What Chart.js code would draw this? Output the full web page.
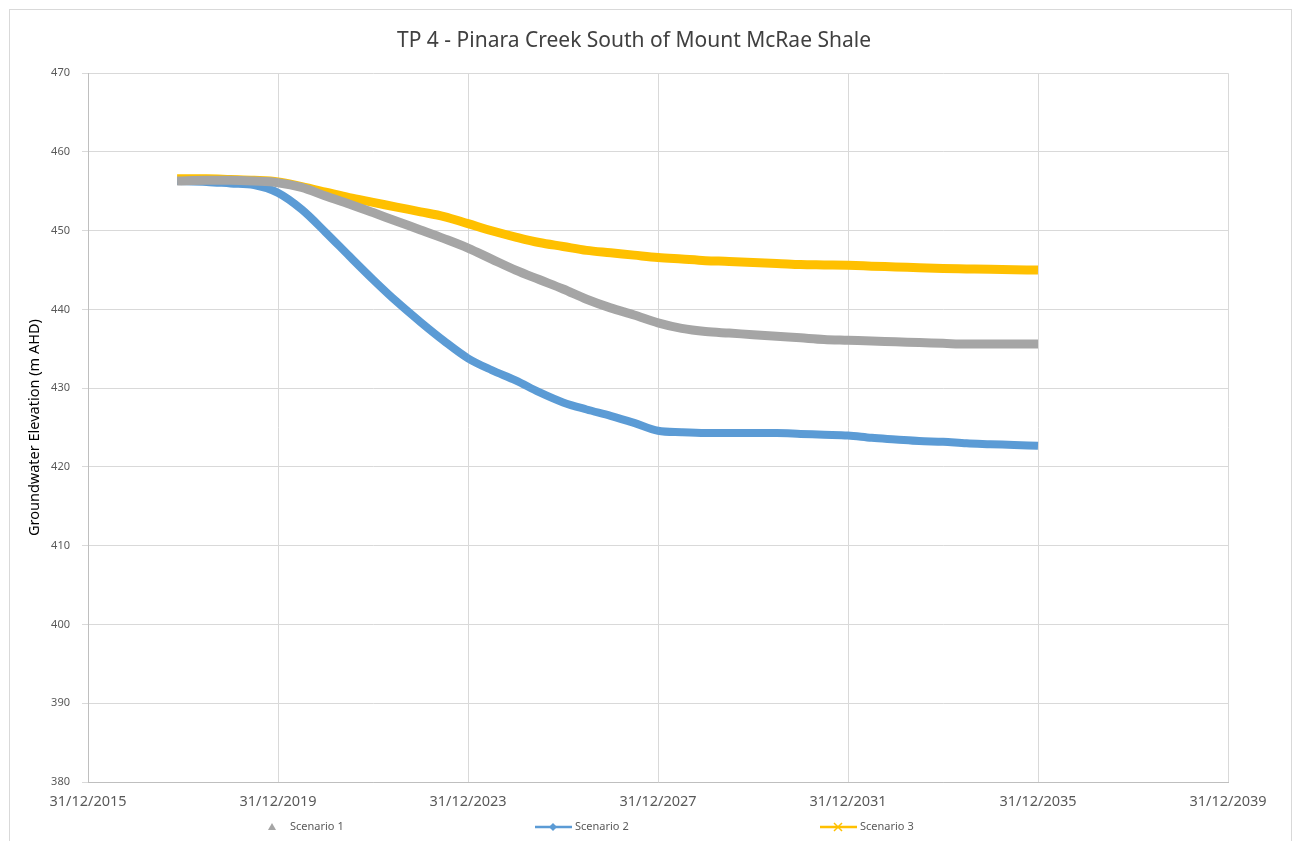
<!DOCTYPE html>
<html>
<head>
<meta charset="utf-8">
<script src="https://cdn.jsdelivr.net/npm/chart.js@4.4.0/dist/chart.umd.min.js"></script>
<style>
  html, body { margin: 0; padding: 0; background: #fff; }
  #wrap { position: relative; width: 1299px; height: 841px; overflow: hidden; }
  #frame { position: absolute; left: 9px; top: 9px; width: 1281px; height: 850px; border: 1px solid #d9d9d9; }
  #chart { position: absolute; left: 0; top: 0; }
</style>
</head>
<body>
<div id="wrap">
  <div id="frame"></div>
  <canvas id="chart" width="1299" height="841"></canvas>
</div>
<script>
// Sample dates (roughly every 6 months)
const dates = [
    '2017-11-15', '2018-06-30', '2018-12-31', '2019-06-30', '2019-12-31',
    '2020-06-30', '2020-12-31', '2021-06-30', '2021-12-31', '2022-06-30',
    '2022-12-31', '2023-06-30', '2023-12-31', '2024-06-30', '2024-12-31',
    '2025-06-30', '2025-12-31', '2026-06-30', '2026-12-31', '2027-06-30',
    '2027-12-31', '2028-06-30', '2028-12-31', '2029-06-30', '2029-12-31',
    '2030-06-30', '2030-12-31', '2031-06-30', '2031-12-31', '2032-06-30',
    '2032-12-31', '2033-06-30', '2033-12-31', '2034-06-30', '2034-12-31',
    '2035-06-30', '2035-12-31'
];

// Groundwater elevation (m AHD)
const scenario1 = [
    456.3, 456.4, 456.4, 456.3, 456.1, 455.5, 454.4, 453.4, 452.3, 451.2,
    450.1, 449.0, 447.8, 446.4, 445.0, 443.8, 442.6, 441.3, 440.2, 439.3,
    438.3, 437.6, 437.2, 437.0, 436.8, 436.6, 436.4, 436.2, 436.1, 436.0,
    435.9, 435.8, 435.7, 435.6, 435.6, 435.6, 435.6
];
const scenario2 = [
    456.3, 456.2, 456.0, 455.8, 454.8, 452.7, 449.8, 446.8, 443.8, 441.0,
    438.4, 436.0, 433.8, 432.3, 431.0, 429.5, 428.2, 427.3, 426.5, 425.6,
    424.6, 424.4, 424.3, 424.3, 424.3, 424.3, 424.2, 424.1, 424.0, 423.7,
    423.5, 423.3, 423.2, 423.0, 422.9, 422.8, 422.7
];
const scenario3 = [
    456.6, 456.6, 456.5, 456.4, 456.2, 455.6, 454.9, 454.2, 453.6, 453.0,
    452.4, 451.8, 450.9, 450.0, 449.2, 448.5, 448.0, 447.5, 447.2, 446.9,
    446.6, 446.4, 446.2, 446.1, 445.95, 445.85, 445.7, 445.65, 445.6, 445.5,
    445.4, 445.3, 445.2, 445.15, 445.1, 445.05, 445.0
];

// Axis ticks: every 4 years from 31/12/2015 to 31/12/2039
const xTickStart = '2015-12-31';
const xTickEnd = '2039-12-31';
const yMin = 380, yMax = 470, yStep = 10;

// Excel-style serial day numbers, so a 4 year step is exactly 1461 days here
function toSerial(s) {
    const [y, m, d] = s.split('-').map(Number);
    return Date.UTC(y, m - 1, d) / 86400000 + 25569;
}
function fromSerial(v) {
    const dt = new Date(Math.round(v - 25569) * 86400000);
    const pad = n => String(n).padStart(2, '0');
    return `${pad(dt.getUTCDate())}/${pad(dt.getUTCMonth() + 1)}/${dt.getUTCFullYear()}`;
}

const toPoints = vals => vals.map((v, i) => ({ x: toSerial(dates[i]), y: v }));

const FONT = "'Noto Sans', 'Liberation Sans', sans-serif";
const GRID = '#d9d9d9';
const TEXT = '#595959';

// Excel-like legend at the bottom (triangle only / line+diamond / line+cross)
const bottomLegend = {
    id: 'bottomLegend',
    afterDraw(chart) {
        const ctx = chart.ctx;
        const y = 827;
        const slot = 285, x0 = 245;
        ctx.save();
        ctx.font = `11px ${FONT}`;
        ctx.textBaseline = 'middle';
        chart.data.datasets.forEach((ds, i) => {
            const x = x0 + i * slot;
            ctx.strokeStyle = ds.borderColor;
            ctx.fillStyle = ds.borderColor;
            if (ds.legendMarker === 'triangle') {
                ctx.beginPath();
                ctx.moveTo(x + 27, y - 4);
                ctx.lineTo(x + 31, y + 3);
                ctx.lineTo(x + 23, y + 3);
                ctx.closePath();
                ctx.fill();
            } else {
                ctx.lineWidth = 2.5;
                ctx.beginPath();
                ctx.moveTo(x + 5, y);
                ctx.lineTo(x + 42, y);
                ctx.stroke();
                if (ds.legendMarker === 'diamond') {
                    ctx.beginPath();
                    ctx.moveTo(x + 23, y - 4);
                    ctx.lineTo(x + 27, y);
                    ctx.lineTo(x + 23, y + 4);
                    ctx.lineTo(x + 19, y);
                    ctx.closePath();
                    ctx.fill();
                } else {
                    ctx.lineWidth = 1.5;
                    ctx.beginPath();
                    ctx.moveTo(x + 19, y - 4); ctx.lineTo(x + 27, y + 4);
                    ctx.moveTo(x + 27, y - 4); ctx.lineTo(x + 19, y + 4);
                    ctx.stroke();
                }
            }
            ctx.fillStyle = TEXT;
            ctx.fillText(ds.label, x + 45, y);
        });
        ctx.restore();
    }
};

new Chart(document.getElementById('chart').getContext('2d'), {
    type: 'line',
    data: {
        datasets: [
            {
                label: 'Scenario 1',
                data: toPoints(scenario1),
                borderColor: '#a5a5a5',
                borderWidth: 9,
                legendMarker: 'triangle'
            },
            {
                label: 'Scenario 2',
                data: toPoints(scenario2),
                borderColor: '#5b9bd5',
                borderWidth: 8,
                legendMarker: 'diamond'
            },
            {
                label: 'Scenario 3',
                data: toPoints(scenario3),
                borderColor: '#ffc000',
                borderWidth: 9,
                legendMarker: 'cross'
            }
        ]
    },
    options: {
        responsive: false,
        animation: false,
        cubicInterpolationMode: 'monotone',
        elements: { point: { radius: 0 } },
        // right padding kept small so the title centres like the original;
        // the plot's right edge comes from the x axis padding below
        layout: { padding: { left: 0, right: 31, top: 0, bottom: 0 } },
        plugins: {
            legend: { display: false },
            tooltip: { enabled: false },
            title: {
                display: true,
                text: 'TP 4 - Pinara Creek South of Mount McRae Shale',
                color: '#404040',
                font: { family: FONT, size: 21, weight: 'normal' },
                padding: { top: 28, bottom: 20 }
            }
        },
        scales: {
            x: {
                type: 'linear',
                min: toSerial(xTickStart),
                max: toSerial(xTickEnd),
                grid: { color: GRID, drawTicks: false },
                border: { color: '#bfbfbf' },
                ticks: {
                    stepSize: 1461,
                    maxRotation: 0,
                    autoSkip: false,
                    padding: 11,
                    color: TEXT,
                    font: { family: FONT, size: 14.5 },
                    callback: v => fromSerial(v)
                },
                afterFit: s => { s.height = 59; s.paddingRight = 71; }
            },
            y: {
                min: yMin,
                max: yMax,
                grid: { color: GRID, tickLength: 6 },
                border: { color: '#bfbfbf' },
                ticks: {
                    stepSize: yStep,
                    padding: 12,
                    color: TEXT,
                    font: { family: FONT, size: 11 }
                },
                title: {
                    display: true,
                    text: 'Groundwater Elevation (m AHD)',
                    color: '#000000',
                    font: { family: FONT, size: 14.5 },
                    padding: { top: 26, bottom: 0 }
                },
                afterFit: s => { s.width = 88; }
            }
        }
    },
    plugins: [bottomLegend]
});
</script>
</body>
</html>
